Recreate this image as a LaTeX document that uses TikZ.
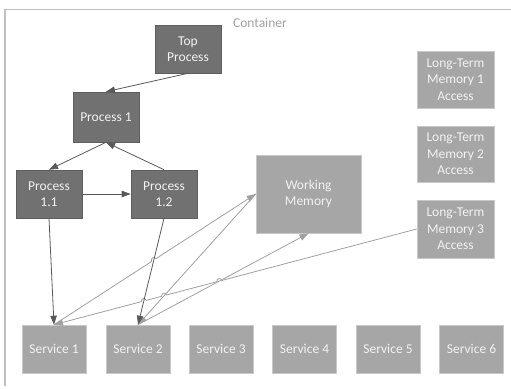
\documentclass[tikz,border=0pt]{standalone}
\usepackage{fontspec}
\setmainfont{Carlito}
\usetikzlibrary{arrows.meta,calc,intersections}
\definecolor{darkbox}{HTML}{717171}
\definecolor{darkedge}{HTML}{5E5E5E}
\definecolor{lightbox}{HTML}{A6A6A6}
\definecolor{lightedge}{HTML}{C8C8C8}
\definecolor{boxtext}{HTML}{F2F2F2}
\definecolor{darkline}{HTML}{595959}
\definecolor{lightline}{HTML}{A0A0A0}
\definecolor{framecol}{HTML}{C0C0C0}
\definecolor{labeltext}{HTML}{A0A0A0}

\begin{document}
\begin{tikzpicture}[x=1pt,y=1pt,
  box/.style={rectangle, inner sep=0pt, align=center, text=boxtext,
    font=\fontsize{13.5}{16.5}\selectfont, line width=0.6pt},
  proc/.style={box, fill=darkbox, draw=darkedge},
  mem/.style={box, fill=lightbox, draw=lightedge},
  darrow/.style={draw=darkline, line width=0.8pt, -{Triangle[length=9pt,width=6.5pt]}},
  larrow/.style={draw=lightline, line width=0.8pt, -{Triangle[length=9pt,width=6.5pt]}},
  hopup/.style={bend left=90, looseness=1.7},
  hopdown/.style={bend right=90, looseness=1.7}
]
\useasboundingbox (0,0) rectangle (511,-388);

% container frame (runs on past the right and bottom edges)
\draw[framecol, line width=1.5pt] (5,-386) -- (5,-9.5) -- (511,-9.5);
\node[text=labeltext, font=\fontsize{13.5}{16.5}\selectfont] (clabel) at (260,-23) {Container};

% process hierarchy
\node[proc, minimum width=66pt, minimum height=48pt] (top) at (188,-49) {Top\\Process};
\node[proc, minimum width=66pt, minimum height=50pt] (p1)  at (106,-117) {Process 1};
\node[proc, minimum width=66pt, minimum height=48pt] (p11) at (49,-194) {Process\\1.1};
\node[proc, minimum width=66pt, minimum height=48pt] (p12) at (164,-194) {Process\\1.2};

% memories
\node[mem, minimum width=105pt, minimum height=78pt] (wm) at (308.5,-194) {Working\\Memory};
\node[mem, minimum width=77pt, minimum height=57pt] (ltm1) at (455.5,-79.5) {Long-Term\\Memory 1\\Access};
\node[mem, minimum width=77pt, minimum height=56pt] (ltm2) at (455.5,-154) {Long-Term\\Memory 2\\Access};
\node[mem, minimum width=77pt, minimum height=58pt] (ltm3) at (455.5,-229) {Long-Term\\Memory 3\\Access};

% services
\foreach \i/\x in {1/54,2/138,3/221,4/304.5,5/388,6/471.5}
  \node[mem, minimum width=64pt, minimum height=48pt] (s\i) at (\x,-349) {Service \i};

% invisible copies of the crossing connectors, used to find the line jumps
\path[name path=pd] (p12.south) -- (s2.north);
\path[name path=pa] (s1.north) -- (wm.west);
\path[name path=pb] (wm.west) -- (s2.north);
\path[name path=pc] (s2.north) -- (wm.south);
\path[name path=pe] (ltm3.west) -- (s1.north);
\path[name intersections={of=pa and pd, by=xad}];
\path[name intersections={of=pe and pc, by=xec}];
\path[name intersections={of=pe and pb, by=xeb}];
\path[name intersections={of=pe and pd, by=xed}];

% memory traffic
\draw[larrow] (s1.north) -- ($(xad)!2.5pt!(s1.north)$) to[hopup] ($(xad)!2.5pt!(wm.west)$) -- (wm.west);
\draw[larrow] (wm.west) -- (s2.north);
\draw[larrow] (s2.north) -- (wm.south);
\draw[larrow] (ltm3.west)
  -- ($(xec)!2.5pt!(ltm3.west)$) to[hopdown] ($(xec)!2.5pt!(s1.north)$)
  -- ($(xeb)!2.5pt!(ltm3.west)$) to[hopdown] ($(xeb)!2.5pt!(s1.north)$)
  -- ($(xed)!2.5pt!(ltm3.west)$) to[hopdown] ($(xed)!2.5pt!(s1.north)$)
  -- (s1.north);

% control flow
\draw[darrow] (top.south) -- (p1.north);
\draw[darrow] (p1.south) -- (p11.north);
\draw[darrow] (p12.north) -- (p1.south);
\draw[darrow] (p11.east) -- (p12.west);
\draw[darrow] (p11.south) -- (s1.north);
\draw[darrow] (p12.south) -- (s2.north);
\end{tikzpicture}
\end{document}
